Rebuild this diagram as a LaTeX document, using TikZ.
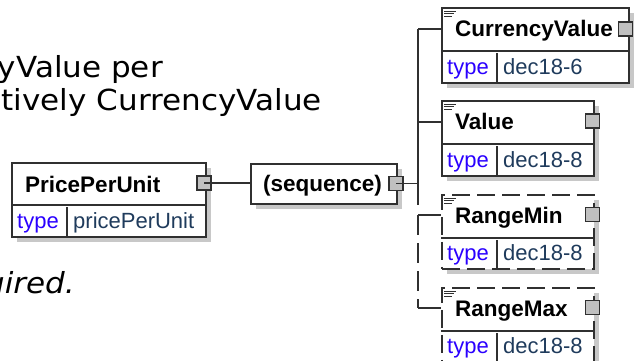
\documentclass[tikz,border=0pt]{standalone}
\usepackage{fontspec}
\setmainfont{Liberation Sans}
\newfontfamily\versans{DejaVu Sans}
\usetikzlibrary{shadows}
\definecolor{bordc}{HTML}{303030}
\definecolor{shadc}{HTML}{C8C8C8}
\definecolor{sqfill}{HTML}{C0C0C0}
\definecolor{typec}{HTML}{2A00FF}
\definecolor{valc}{HTML}{1F3B5C}
\tikzset{
  elbox/.style={line width=1.5pt, draw=bordc, rectangle, fill=white, inner sep=0pt, anchor=north west,
    drop shadow={shadow xshift=5pt, shadow yshift=-5pt, fill=shadc, opacity=1}},
  optbox/.style={elbox, dash pattern=on 18pt off 7pt},
  sqbox/.style={line width=1.3pt, draw=bordc, fill=sqfill, minimum size=14pt, inner sep=0pt},
  ttl/.style={font=\fontsize{22.5}{26}\selectfont\bfseries, anchor=base west, inner sep=0pt},
  tlab/.style={font=\fontsize{22}{26}\selectfont, text=typec, anchor=base west, inner sep=0pt},
  tval/.style={font=\fontsize{22}{26}\selectfont, text=valc, anchor=base west, inner sep=0pt},
  wire/.style={line width=1.5pt, draw=bordc},
  optwire/.style={wire, dash pattern=on 20pt off 8pt},
  para/.style={font=\versans\fontsize{29}{33}\selectfont, anchor=base east, inner sep=0pt},
  iconln/.style={line width=0.9pt, draw=bordc},
}
\begin{document}
\begin{tikzpicture}[x=1pt,y=-1pt]
\useasboundingbox (0,0) rectangle (635,360);
\clip (0,0) rectangle (635,360);
\fill[white] (0,0) rectangle (635,360);

% paragraph text fragments
\node[para] (p1) at (163,77) {\scalebox{1.07}[1]{yValue per}};
\node[para] (p2) at (322,110) {\scalebox{1.07}[1]{tively CurrencyValue}};
\node[para, font=\versans\itshape\fontsize{29}{33}\selectfont] (p3) at (75,293) {\scalebox{1.07}[1]{uired.}};

% PricePerUnit
\node[elbox, minimum width=194pt, minimum height=74pt] (ppu) at (11,162) {};
\draw[wire] ([yshift=-43pt]ppu.north west) -- ([yshift=-43pt]ppu.north east);
\draw[wire] ([xshift=56pt]ppu.south west) -- ([xshift=56pt,yshift=31pt]ppu.south west);
\node[ttl] (ppuT) at (25,192) {PricePerUnit};
\node[tlab] (ppuL) at (17,228) {type};
\node[tval] (ppuV) at (73,228) {pricePerUnit};
\node[sqbox] (ppuS) at (204,183) {};

% sequence
\node[elbox, minimum width=146pt, minimum height=40pt] (seq) at (250,163) {};
\node[ttl] (seqT) at (263,191) {(sequence)};
\node[sqbox] (seqS) at (396,183.5) {};
\draw[wire] (ppuS.center) -- (ppuS.center -| seq.west);

% trunk
\coordinate (j0) at (418,183.5);
\coordinate (j1) at (418,29);
\coordinate (j2) at (418,122);
\coordinate (j3) at (418,205);
\coordinate (j4) at (418,215);
\coordinate (j5) at (418,308);
\draw[wire] (seqS.center) -- (j0);
\draw[wire] (j1) -- (j3);

% CurrencyValue
\node[elbox, minimum width=187pt, minimum height=75pt] (cv) at (441,7) {};
\draw[wire] ([yshift=-44pt]cv.north west) -- ([yshift=-44pt]cv.north east);
\draw[wire] ([xshift=56pt]cv.south west) -- ([xshift=56pt,yshift=31pt]cv.south west);
\node[ttl] (cvT) at (455,36) {CurrencyValue};
\node[tlab] (cvL) at (447,74) {type};
\node[tval] (cvV) at (503,74) {dec18-6};
\node[sqbox] (cvS) at (625.5,29) {};
\draw[wire] (j1) -- (j1 -| cv.west);

% Value
\node[elbox, minimum width=152pt, minimum height=75pt] (val) at (441,100) {};
\draw[wire] ([yshift=-44pt]val.north west) -- ([yshift=-44pt]val.north east);
\draw[wire] ([xshift=56pt]val.south west) -- ([xshift=56pt,yshift=31pt]val.south west);
\node[ttl] (valT) at (455,129) {Value};
\node[tlab] (valL) at (447,167) {type};
\node[tval] (valV) at (503,167) {dec18-8};
\node[sqbox] (valS) at (592.5,121) {};
\draw[wire] (j2) -- (j2 -| val.west);

% RangeMin
\node[optbox, minimum width=152pt, minimum height=74pt] (rmin) at (441,194) {};
\draw[wire] ([yshift=-44pt]rmin.north west) -- ([yshift=-44pt]rmin.north east);
\draw[wire] ([xshift=56pt]rmin.south west) -- ([xshift=56pt,yshift=30pt]rmin.south west);
\node[ttl] (rminT) at (455,223) {RangeMin};
\node[tlab] (rminL) at (447,260) {type};
\node[tval] (rminV) at (503,260) {dec18-8};
\node[sqbox] (rminS) at (592.5,214.5) {};
\draw[wire] (j4) -- (j4 -| rmin.west);

% RangeMax
\node[optbox, minimum width=152pt, minimum height=74pt] (rmax) at (441,287) {};
\draw[wire] ([yshift=-44pt]rmax.north west) -- ([yshift=-44pt]rmax.north east);
\draw[wire] ([xshift=56pt]rmax.south west) -- ([xshift=56pt,yshift=30pt]rmax.south west);
\node[ttl] (rmaxT) at (455,316) {RangeMax};
\node[tlab] (rmaxL) at (447,353) {type};
\node[tval] (rmaxV) at (503,353) {dec18-8};
\node[sqbox] (rmaxS) at (592.5,307.5) {};
\draw[optwire] (j4) -- (j5);
\draw[wire] (j5) -- (j5 -| rmax.west);

% documentation icons
\foreach \b in {cv,val,rmin,rmax}{
  \draw[iconln] ([shift={(3,4)}]\b.north west) -- ++(12,0);
  \draw[iconln] ([shift={(3,6.5)}]\b.north west) -- ++(10,0);
  \draw[iconln] ([shift={(3,9)}]\b.north west) -- ++(8,0);
}
\end{tikzpicture}
\end{document}
